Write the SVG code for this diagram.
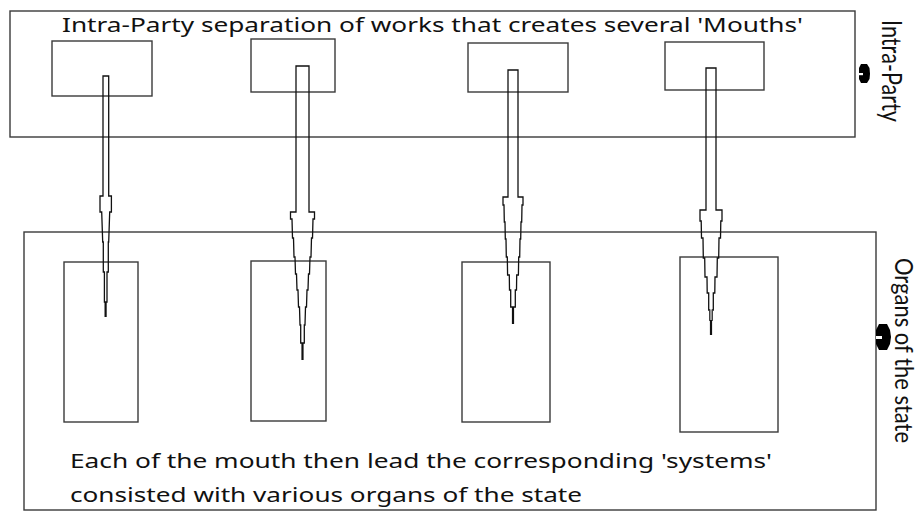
<svg xmlns="http://www.w3.org/2000/svg" width="921" height="511" viewBox="0 0 921 511">
<style>
.box{fill:none;stroke:#3a3a3a;stroke-width:1.4}
.pipe{fill:none;stroke:#111;stroke-width:1.3;stroke-linejoin:miter}
.tip{stroke:#111;stroke-width:2.2}
.t{font-family:"Noto Sans","Open Sans",sans-serif;font-size:20.5px;fill:#111}
.v{font-family:Lato,"Open Sans",sans-serif;fill:#111}
.blob{fill:#000}
</style>
<rect width="921" height="511" fill="#fff"/>
<g id="intra-party-frame">
<rect class="box" x="10" y="11" width="845" height="126"/>
<text class="t" x="62" y="32" textLength="741" lengthAdjust="spacingAndGlyphs">Intra-Party separation of works that creates several 'Mouths'</text>
</g>
<g id="intra-party-label">
<text class="v" font-size="26" transform="translate(881.5,20) rotate(90)" textLength="102" lengthAdjust="spacingAndGlyphs">Intra-Party</text>
<path class="blob" d="M861,64 L867,64 L869.5,68 L870,74 L869.5,79 L867,83 L861,83 L859,79 L859,68 Z"/>
<rect x="859" y="73" width="4" height="2.2" fill="#fff"/>
</g>
<g id="organs-frame">
<rect class="box" x="24" y="232" width="852" height="278"/>
<text class="t" x="70" y="468" textLength="702" lengthAdjust="spacingAndGlyphs">Each of the mouth then lead the corresponding 'systems'</text>
<text class="t" x="70" y="502" textLength="512" lengthAdjust="spacingAndGlyphs">consisted with various organs of the state</text>
</g>
<g id="organs-label">
<text class="v" font-size="25" transform="translate(895,258) rotate(90)" textLength="185" lengthAdjust="spacingAndGlyphs">Organs of the state</text>
<path class="blob" d="M879,324 L887,324 L890,330 L891,337 L890,344 L887,350 L879,350 L876,344 L876,330 Z"/>
<rect x="876" y="336" width="6" height="3" fill="#fff"/>
</g>
<g id="mouth-1"><rect class="box" x="52" y="41" width="100" height="55"/></g>
<g id="mouth-2"><rect class="box" x="251" y="39" width="84" height="53"/></g>
<g id="mouth-3"><rect class="box" x="468" y="43" width="100" height="49"/></g>
<g id="mouth-4"><rect class="box" x="665" y="42" width="99" height="48"/></g>
<g id="system-1"><rect class="box" x="64" y="262" width="74" height="160"/></g>
<g id="system-2"><rect class="box" x="251" y="261" width="75" height="160"/></g>
<g id="system-3"><rect class="box" x="462" y="262" width="88" height="160"/></g>
<g id="system-4"><rect class="box" x="680" y="257" width="98" height="175"/></g>
<g id="connectors">
<path class="pipe" d="M103,76 L103,196 L100,196 L100,212 L101.7,212 L102.7,242 L103.3,242 L103.3,272 L104.4,272 L104.4,302 L107,302 L107,272 L108.3,272 L108.3,242 L108.7,242 L109.7,212 L111.4,212 L111.4,196 L108.7,196 L108.7,76 Z"/>
<line class="tip" x1="105.6" y1="302" x2="105.6" y2="317" stroke-width="1.2"/>
<path class="pipe" d="M296,66 L296,212 L290.5,212 L290.5,219 L292,219 L292.5,238 L293.5,238 L294,257 L295,257 L295.5,274 L296.5,274 L297,290 L298,290 L298.5,307 L299.5,307 L300,325 L300.7,325 L300.7,343 L304.3,343 L304.3,325 L305,325 L305.5,307 L306.5,307 L307,290 L308,290 L308.5,274 L309.5,274 L310,257 L311,257 L311.5,238 L312.5,238 L313,219 L314.5,219 L314.5,212 L309,212 L309,66 Z"/>
<line class="tip" x1="302.5" y1="343" x2="302.5" y2="360" stroke-width="2.6"/>
<path class="pipe" d="M508,70 L508,197 L503,197 L503,205 L504,205 L504.3,222 L505,222 L505.3,239 L506,239 L506.3,257 L507.3,257 L507.6,275 L509.3,275 L509.5,290 L510.7,290 L510.7,307 L515.3,307 L515.3,290 L516.5,290 L516.7,275 L518.4,275 L518.7,257 L519.7,257 L520,239 L520.7,239 L521,222 L521.7,222 L522,205 L523,205 L523,197 L518,197 L518,70 Z"/>
<line class="tip" x1="513" y1="307" x2="513" y2="324" stroke-width="2.6"/>
<path class="pipe" d="M706,68 L706,210 L700,210 L700,221 L701.2,221 L701.5,238 L703,238 L703.3,258 L704.7,258 L705,277 L707,277 L707.2,293 L708.7,293 L708.7,310 L709.7,310 L709.7,320 L712.3,320 L712.3,310 L713.3,310 L713.3,293 L714.8,293 L715,277 L717,277 L717.3,258 L718.7,258 L719,238 L720.5,238 L720.8,221 L722,221 L722,210 L716,210 L716,68 Z"/>
<rect x="709.7" y="310" width="2.6" height="10" fill="#999"/>
<line class="tip" x1="711" y1="320" x2="711" y2="335" stroke-width="1.2"/>
</g>
</svg>
